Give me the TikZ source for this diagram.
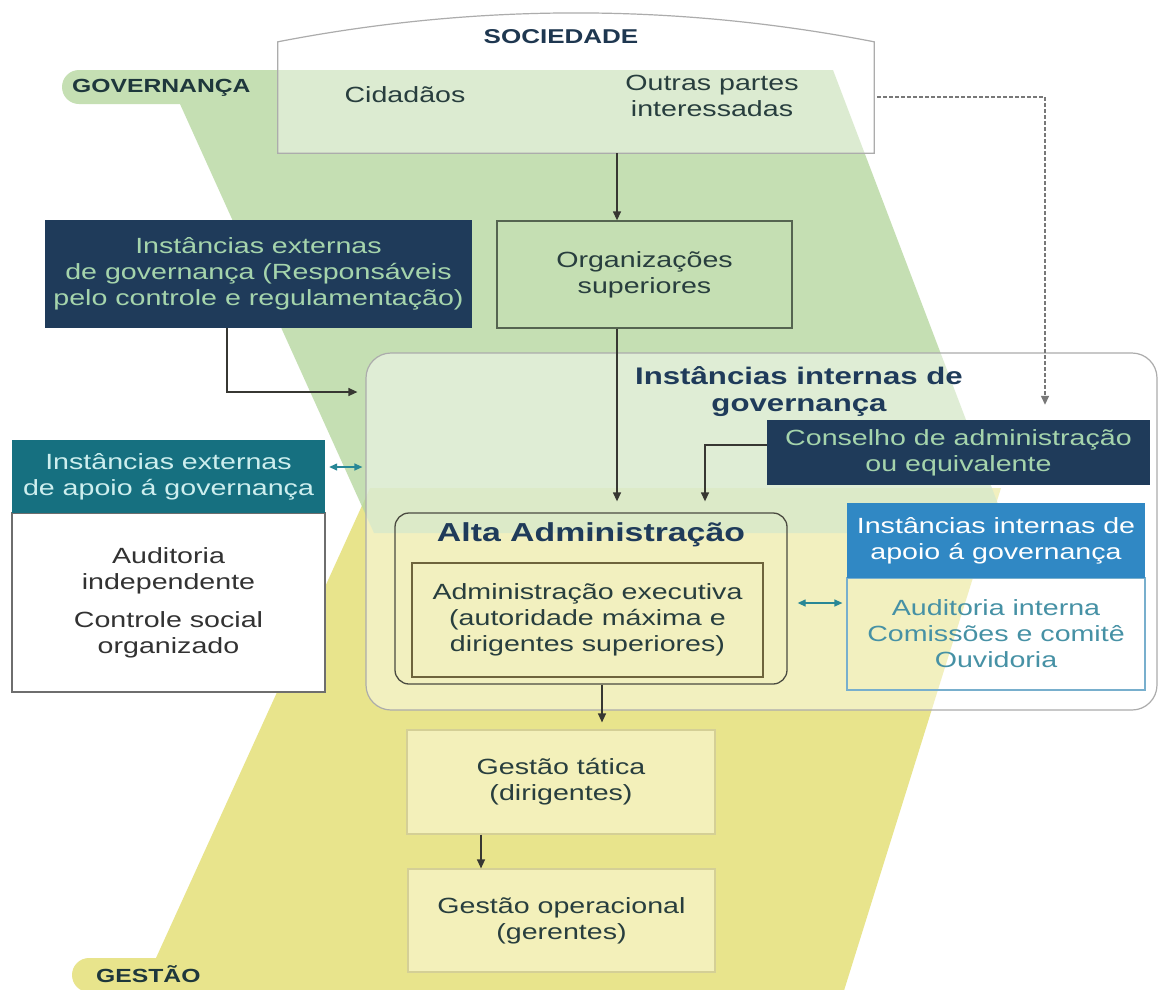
\documentclass[tikz,border=0pt]{standalone}
\usepackage{fontspec}
\setmainfont{Liberation Sans}[FakeStretch=1.3]
\usetikzlibrary{arrows.meta}

\definecolor{govgreen}{RGB}{183,216,161}
\definecolor{gestyel}{RGB}{232,228,140}
\definecolor{boxgray}{RGB}{172,172,172}
\definecolor{navy}{RGB}{31,59,90}
\definecolor{navytxt}{RGB}{165,212,172}
\definecolor{txtdark}{RGB}{40,62,62}
\definecolor{lblc}{RGB}{30,55,60}
\definecolor{titlec}{RGB}{30,55,80}
\definecolor{orgborder}{RGB}{85,100,80}
\definecolor{altac}{RGB}{75,75,65}
\definecolor{innerc}{RGB}{110,100,60}
\definecolor{bluehead}{RGB}{48,136,196}
\definecolor{bluebord}{RGB}{120,175,205}
\definecolor{tealtext}{RGB}{70,145,165}
\definecolor{tealhead}{RGB}{22,112,128}
\definecolor{tealtxtlight}{RGB}{205,238,238}
\definecolor{bodygray}{RGB}{50,50,50}
\definecolor{graybord}{RGB}{110,110,110}
\definecolor{gboxfill}{RGB}{243,240,186}
\definecolor{gboxbord}{RGB}{212,207,150}
\definecolor{arrowc}{RGB}{55,55,50}
\definecolor{dashc}{RGB}{120,120,120}
\definecolor{tealarr}{RGB}{40,135,150}

\tikzset{
  txt/.style={font=\fontsize{22}{26}\selectfont, align=center, inner sep=0pt},
  lbl/.style={font=\bfseries\fontsize{19}{21}\selectfont, text=lblc, inner sep=0pt},
  navybox/.style={txt, fill=navy, text=navytxt},
  orgbox/.style={txt, draw=orgborder, line width=1.3pt, text=txtdark},
  gbox/.style={txt, draw=gboxbord, fill=gboxfill, line width=1.2pt, text=txtdark},
  arr/.style={draw=arrowc, line width=1.3pt, -{Triangle[length=9pt,width=8pt]}},
  dasharr/.style={draw=dashc, line width=1.4pt, dash pattern=on 4pt off 2pt, -{Triangle[length=9pt,width=8pt]}},
  darr/.style={draw=tealarr, line width=1.3pt, {Triangle[length=8pt,width=7pt]}-{Triangle[length=8pt,width=7pt]}}
}

\begin{document}
\begin{tikzpicture}[x=1pt,y=-1pt]
\useasboundingbox (0,0) rectangle (1160,989);
\fill[white] (0,0) rectangle (1160,989);

% management band (yellow) and governance band (green)
\fill[gestyel] (370,488) -- (1001,488) -- (842,997) -- (89,992)
  .. controls (79.6,992) and (72,984.4) .. (72,975)
  .. controls (72,965.6) and (79.6,958) .. (89,958) -- (156,958) -- cycle;
\fill[govgreen, fill opacity=0.8] (833,70) -- (79,70)
  .. controls (69.6,70) and (62,77.6) .. (62,87)
  .. controls (62,96.4) and (69.6,104) .. (79,104) -- (180,104) -- (374,533) -- (1009,533) -- cycle;

\node[lbl, anchor=west] (gov) at (72,88) {GOVERNANÇA};
\node[lbl, anchor=west] (ges) at (96,974) {GESTÃO};

% society
\node[minimum width=596pt, minimum height=111pt, inner sep=0pt] (soc) at (576,97.5) {};
\draw[boxgray, line width=1.2pt, fill=white, fill opacity=0.4]
  (soc.south west) -- (soc.north west) .. controls (476.7,3.3) and (675.3,3.3) .. (soc.north east)
  -- (soc.south east) -- cycle;
\node[font=\bfseries\fontsize{20}{22}\selectfont, text=titlec] (socT) at (561,37) {SOCIEDADE};
\node[txt, text=txtdark] (cid) at (405,95) {Cidadãos};
\node[txt, text=txtdark] (out) at (712,96) {Outras partes\\interessadas};

% external governance and higher organisations
\node[navybox, minimum width=427pt, minimum height=108pt] (egov) at (258.5,274)
  {Instâncias externas\\de governança (Responsáveis\\pelo controle e regulamentação)};
\node[orgbox, minimum width=295pt, minimum height=107pt] (org) at (644.5,274.5) {Organizações\\superiores};

% internal governance
\node[draw=boxgray, line width=1.2pt, rounded corners=25pt, fill=white, fill opacity=0.45,
  minimum width=791pt, minimum height=357pt, inner sep=0pt] (intg) at (761.5,531.5) {};
\node[font=\bfseries\fontsize{24}{27}\selectfont, text=navy, align=center] (intT) at (799,392)
  {Instâncias internas de\\governança};
\node[navybox, minimum width=383pt, minimum height=65pt] (cons) at (958.5,452.5)
  {Conselho de administração\\ou equivalente};

\node[draw=altac, line width=1.3pt, rounded corners=14pt, minimum width=392pt, minimum height=171pt] (alta) at (591,598.5) {};
\node[font=\bfseries\fontsize{26}{28}\selectfont, text=navy] (altaT) at (591,535) {Alta Administração};
\node[txt, draw=innerc, line width=1.3pt, text=txtdark, minimum width=351pt, minimum height=114pt] (exec) at (587.5,620)
  {Administração executiva\\(autoridade máxima e\\dirigentes superiores)};

% internal support
\node[txt, draw=bluebord, line width=1.2pt, text=tealtext, minimum width=298pt, minimum height=112pt] (iab) at (996,634)
  {Auditoria interna\\Comissões e comitê\\Ouvidoria};
\node[txt, fill=bluehead, text=white, minimum width=298pt, minimum height=75pt] (iah) at (996,540.5)
  {Instâncias internas de\\apoio á governança};

% external support
\node[txt, draw=graybord, fill=white, line width=1.2pt, text=bodygray, minimum width=313pt, minimum height=179pt] (eab) at (168.5,602.5)
  {Auditoria\\independente\\[12pt]Controle social\\organizado};
\node[txt, fill=tealhead, text=tealtxtlight, minimum width=313pt, minimum height=73pt] (eah) at (168.5,476.5)
  {Instâncias externas\\de apoio á governança};

% management levels
\node[gbox, minimum width=308pt, minimum height=104pt] (gt) at (561,782) {Gestão tática\\(dirigentes)};
\node[gbox, minimum width=307pt, minimum height=103pt] (go) at (561.5,920.5) {Gestão operacional\\(gerentes)};

% connectors
\coordinate (xA) at (617,0);
\coordinate (xB) at (227,392);
\coordinate (xC) at (1045,97);
\coordinate (xD) at (705,445);
\coordinate (xE) at (602,0);
\coordinate (xF) at (481,0);
\coordinate (yG) at (0,467);
\coordinate (yH) at (0,603);

\draw[arr] (soc.south -| xA) -- (org.north -| xA);
\draw[arr, shorten >=11pt] (org.south -| xA) -- (alta.north -| xA);
\draw[arr, shorten >=8pt] (egov.south -| xB) |- (intg.west |- xB);
\draw[dasharr, shorten <=3pt, shorten >=15pt] (soc.east |- xC) -- (xC) -- (cons.north -| xC);
\draw[arr, shorten >=11pt] (cons.west |- xD) -| (alta.north -| xD);
\draw[arr, shorten >=7pt] (alta.south -| xE) -- (gt.north -| xE);
\draw[arr] (gt.south -| xF) -- (go.north -| xF);
\draw[darr, shorten <=4pt, shorten >=3pt] (eah.east |- yG) -- (intg.west |- yG);
\draw[darr, shorten <=10pt, shorten >=4pt] (alta.east |- yH) -- (iab.west |- yH);
\end{tikzpicture}
\end{document}
